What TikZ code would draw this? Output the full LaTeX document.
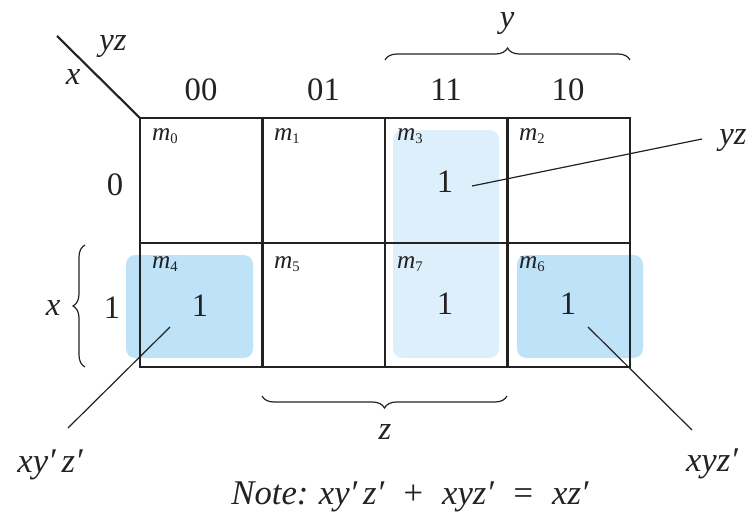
\documentclass[tikz,border=0pt]{standalone}
\usepackage{fontspec}
\setmainfont{Liberation Serif}
\usetikzlibrary{decorations.pathreplacing}
\definecolor{ink}{HTML}{222222}
\definecolor{hlA}{HTML}{DEEFFC}
\definecolor{hlB}{HTML}{BEE2F7}
\tikzset{
  gridline/.style={draw=ink, line width=1.9pt},
  conn/.style={draw=ink, line width=0.9pt},
  bigtxt/.style={text=ink, inner sep=0pt, font=\fontsize{24.5}{28}\selectfont},
  itxt/.style={text=ink, inner sep=0pt, font=\fontsize{24.5}{28}\selectfont\itshape},
  ltxt/.style={text=ink, inner sep=0pt, font=\fontsize{26}{30}\selectfont\itshape},
  mlab/.style={text=ink, inner sep=0pt, font=\fontsize{19}{22}\selectfont},
  bracestyle/.style={draw=ink, line width=0.9pt, decorate, decoration={brace, amplitude=9pt}},
}
\newcommand{\mm}[1]{\textit{m}\raisebox{-0.25ex}{\fontsize{11}{12}\selectfont #1}}
\newcommand{\gap}{\hspace{0.5em}}
\begin{document}
\begin{tikzpicture}[x=0.75pt,y=-0.75pt]
\useasboundingbox (0,0) rectangle (756,521);
% highlights
\fill[hlA, rounded corners=7pt] (393,130) rectangle (499,358);
\fill[hlB, rounded corners=7pt] (126,255) rectangle (253,358);
\fill[hlB, rounded corners=7pt] (517,255) rectangle (643,358);
% grid
\draw[gridline] (140,118) rectangle (630,367);
\draw[gridline] (140,243) -- (630,243);
\draw[gridline] (262.5,118) -- (262.5,367);
\draw[gridline] (385,118) -- (385,367);
\draw[gridline] (507.5,118) -- (507.5,367);
% corner diagonal
\coordinate (dgA) at (57,36);
\coordinate (dgB) at (140,118);
\draw[gridline, line width=1.6pt] (dgA) -- (dgB);
\node[itxt] (lyzc) at (113,47) {yz};
\node[itxt] (lxc) at (73,77) {x};
% column headings
\node[bigtxt] (h00) at (201,90) {00};
\node[bigtxt] (h01) at (323.5,90) {01};
\node[bigtxt] (h11) at (446,90) {11};
\node[bigtxt] (h10) at (568,90) {10};
% row headings
\node[bigtxt] (r0) at (115,185) {0};
\node[bigtxt] (r1) at (112,308) {1};
% minterm labels
\node[mlab] (m0) at (165,136) {\mm{0}};
\node[mlab] (m1) at (287,136) {\mm{1}};
\node[mlab] (m3) at (410,136) {\mm{3}};
\node[mlab] (m2) at (532,136) {\mm{2}};
\node[mlab] (m4) at (165,264) {\mm{4}};
\node[mlab] (m5) at (287,264) {\mm{5}};
\node[mlab] (m7) at (410,264) {\mm{7}};
\node[mlab] (m6) at (532,264) {\mm{6}};
% ones
\node[bigtxt] (o3) at (445,182) {1};
\node[bigtxt] (o4) at (200,306) {1};
\node[bigtxt] (o7) at (445,304) {1};
\node[bigtxt] (o6) at (568,304) {1};
% braces
\coordinate (byA) at (385,60);
\coordinate (byB) at (630,60);
\draw[bracestyle] (byA) -- (byB);
\node[itxt] (ly) at (507,24) {y};
\coordinate (bxA) at (85,367);
\coordinate (bxB) at (85,245);
\draw[bracestyle] (bxA) -- (bxB);
\node[itxt] (lx) at (53,308) {x};
\coordinate (bzA) at (507,396);
\coordinate (bzB) at (262,396);
\draw[bracestyle] (bzA) -- (bzB);
\node[itxt] (lz) at (385,432) {z};
% group labels and connectors
\node[itxt] (gyz) at (733,141) {yz};
\coordinate (yzS) at (472,186);
\coordinate (yzE) at (702,139);
\draw[conn] (yzS) -- (yzE);
\node[ltxt] (gA) at (50,465) {xy′\,z′};
\coordinate (gAS) at (170,327);
\coordinate (gAE) at (68,428);
\draw[conn] (gAS) -- (gAE);
\node[ltxt] (gB) at (712,464) {xyz′};
\coordinate (gBS) at (588,327);
\coordinate (gBE) at (692,430);
\draw[conn] (gBS) -- (gBE);
% note
\node[ltxt] (note) at (410,497) {Note:\hspace{0.3em}xy′\,z′\gap+\gap xyz′\gap=\gap xz′};
\end{tikzpicture}
\end{document}
